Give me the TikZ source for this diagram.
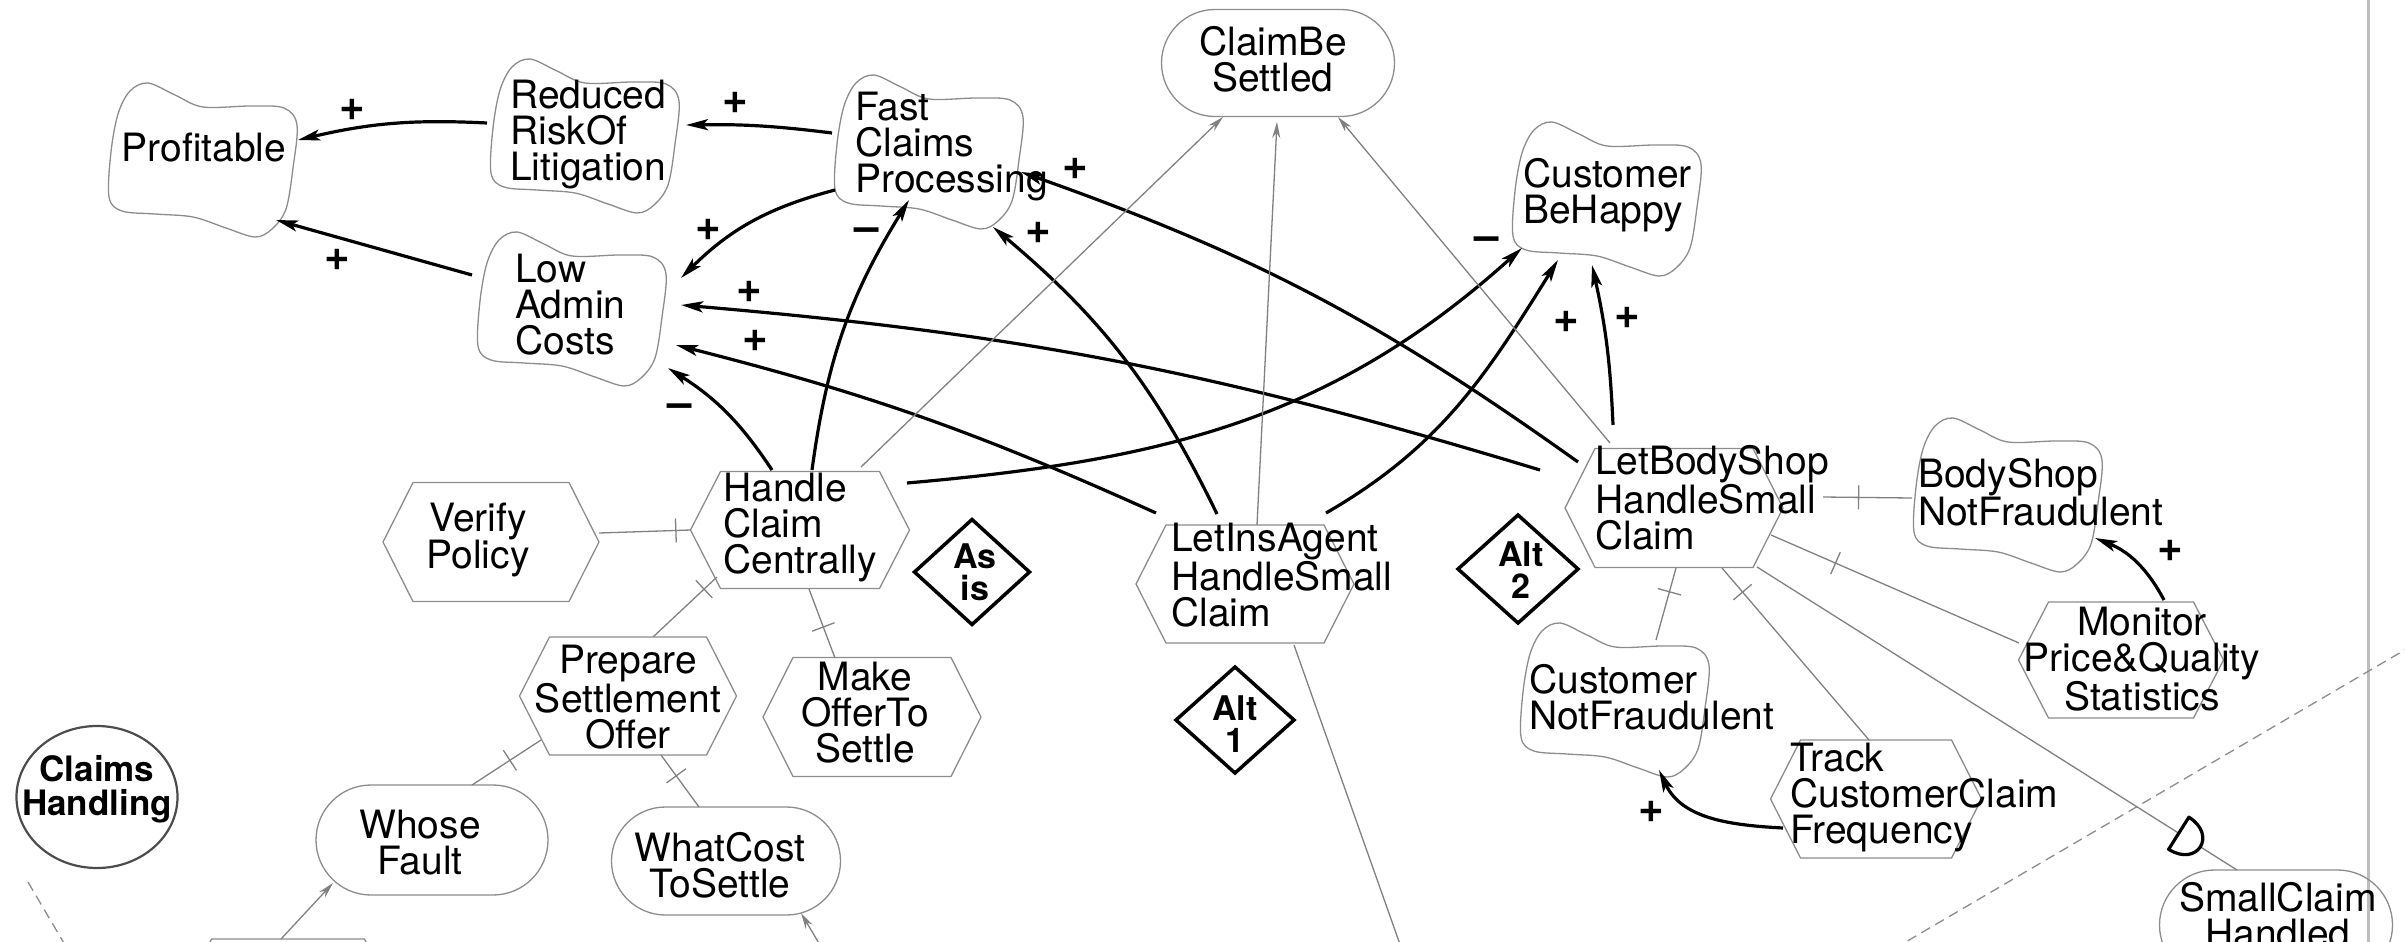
\documentclass[tikz,border=0pt]{standalone}
\usepackage{fontspec}
\setmainfont{TeX Gyre Heros}
\usetikzlibrary{arrows.meta,decorations.markings,shapes.geometric,shapes.misc}

\definecolor{shapegray}{gray}{0.55}
\definecolor{linkgray}{gray}{0.5}
\definecolor{framegray}{gray}{0.74}
\definecolor{actorgray}{gray}{0.3}

\newcommand\nodefont{\fontsize{39bp}{36bp}\selectfont}
\newcommand\signfont{\fontsize{44bp}{44bp}\selectfont\bfseries}
\newcommand\markfont{\fontsize{34bp}{32bp}\selectfont\bfseries}
\newcommand\actorfont{\fontsize{35bp}{34bp}\selectfont\bfseries}

% soft goal: cloud outline around an invisible holder node
\newcommand\softgoal[3]{%
  \node[holder, minimum width=192bp, minimum height=154bp] (#1) at (#2,#3) {};
  \draw[cloudline, shift={(#2,#3)}] plot[smooth cycle, tension=0.55] coordinates {
    (-55,-77) (-28,-65) (0,-53) (48,-54) (81,-52) (94,-35) (90,8) (83,49)
    (69,69) (52,77) (23,68) (-10,57) (-48,54) (-81,51) (-94,37) (-92,-8)
    (-85,-46) (-73,-69)};
}
% task: flat-topped hexagon around a holder node
\newcommand\task[5]{%
  \node[holder, minimum width=#4bp, minimum height=#5bp] (#1) at (#2,#3) {};
  \draw[taskline] (#1.west) -- ([xshift=30bp]#1.north west) -- ([xshift=-30bp]#1.north east)
    -- (#1.east) -- ([xshift=-30bp]#1.south east) -- ([xshift=30bp]#1.south west) -- cycle;
}
% alternative marker: bold diamond
\newcommand\altmark[5]{%
  \node[holder, minimum width=#4bp, minimum height=#5bp] (#1) at (#2,#3) {};
  \draw[altline] (#1.north) -- (#1.east) -- (#1.south) -- (#1.west) -- cycle;
}

\tikzset{
  holder/.style={rectangle, draw=none, inner sep=0pt, outer sep=0pt},
  cloudline/.style={draw=shapegray, line width=1.3bp},
  taskline/.style={draw=shapegray, line width=1.3bp, line join=miter},
  goalshape/.style={rounded rectangle, draw=shapegray, line width=1.3bp, inner sep=0pt},
  actorshape/.style={ellipse, draw=actorgray, line width=2.2bp, inner sep=0pt},
  altline/.style={draw=black, line width=3.5bp},
  lbl/.style={font=\nodefont, inner sep=0pt, align=left, text=black},
  clbl/.style={lbl, align=center},
  marklbl/.style={font=\markfont, inner sep=0pt, align=center},
  actorlbl/.style={font=\actorfont, inner sep=0pt, align=center},
  sign/.style={font=\signfont, inner sep=0pt},
  contrib/.style={draw=black, line width=3.2bp, -{Stealth[length=22bp,width=11bp,inset=5bp]}},
  meansend/.style={draw=linkgray, line width=1.3bp, -{Stealth[length=16bp,width=8bp]}},
  plainlink/.style={draw=linkgray, line width=1.3bp},
  decomp/.style={draw=linkgray, line width=1.3bp,
    postaction={decorate, decoration={markings,
      mark=at position #1 with {\draw[linkgray, line width=1.3bp] (0,-12bp) -- (0,12bp);}}}},
  dependency/.style={draw=linkgray, line width=1.3bp,
    postaction={decorate, decoration={markings,
      mark=at position #1 with {\draw[black, line width=3.2bp, fill=white, line join=round]
        (-12bp,-19bp) -- (-12bp,19bp) .. controls (22bp,19bp) and (22bp,-19bp) .. (-12bp,-19bp) -- cycle;}}}},
  boundary/.style={draw=shapegray, line width=1.3bp, dash pattern=on 10bp off 6bp},
}

\begin{document}
\begin{tikzpicture}[x=1bp, y=-1bp]
\useasboundingbox (0,0) rectangle (2405,941);
\clip (0,0) rectangle (2405,941);

% boundaries
\draw[framegray, line width=3bp] (2368,-5) -- (2368,950);
\draw[boundary] (1880,957) -- (2420,641);
\draw[boundary] (28,882) -- (68,950);

% soft goals
\softgoal{prof}{203}{160}
\softgoal{red}{585}{136}
\softgoal{low}{572}{309}
\softgoal{fast}{929}{152}
\softgoal{cbh}{1607}{199}
\softgoal{bsnf}{2008}{495}
\softgoal{cnf}{1615}{700}

% goals
\node[goalshape, minimum width=233bp, minimum height=107bp] (cbs) at (1278,63) {};
\node[goalshape, minimum width=232bp, minimum height=110bp] (wf) at (432,840) {};
\node[goalshape, minimum width=229bp, minimum height=108bp] (wc) at (726,861) {};
\node[goalshape, minimum width=233bp, minimum height=110bp] (sch) at (2276,925) {};

% tasks
\task{verify}{491}{542}{216}{119}
\task{hc}{800}{530}{219}{117}
\task{prep}{628}{696}{217}{118}
\task{make}{872}{717}{218}{119}
\task{lia}{1245}{584}{218}{118}
\task{lbs}{1674}{508}{218}{119}
\task{mon}{2121}{660}{205}{116}
\task{track}{1876}{799}{211}{118}
\task{offleft}{288}{998}{213}{118}

% actor
\node[actorshape, minimum width=161bp, minimum height=142bp] (actor) at (97,797) {};

% alternatives
\altmark{asis}{972}{572}{115}{105}
\altmark{altone}{1235}{720}{118}{106}
\altmark{alttwo}{1518}{569}{120}{108}

% free ends of links leaving the view
\coordinate (wcsrc) at (823,950);
\coordinate (liadown) at (1402,950);

% contributions
\draw[contrib] ([shift={(-98,-13)}]red.center) to[bend right=8] ([shift={(95,-20)}]prof.center);
\draw[contrib] ([shift={(-97,-19)}]fast.center) to[bend right=4] ([shift={(101,-11)}]red.center);
\draw[contrib] ([shift={(-100,-34)}]low.center) -- ([shift={(73,60)}]prof.center);
\draw[contrib] ([shift={(-94,38)}]fast.center) to[bend right=15] ([shift={(109,-31)}]low.center);
\draw[contrib] ([shift={(-28,-60)}]hc.center) to[bend right=12] ([shift={(96,59)}]low.center);
\draw[contrib] ([shift={(12,-60)}]hc.center) to[bend left=12] ([shift={(-20,48)}]fast.center);
\draw[contrib] ([shift={(-28,-70)}]lia.center) to[bend right=12] ([shift={(64,75)}]fast.center);
\draw[contrib] ([shift={(-89,-71)}]lia.center) to[bend right=5] ([shift={(104,36)}]low.center);
\draw[contrib] ([shift={(-134,-38)}]lbs.center) to[bend right=6] ([shift={(109,-4)}]low.center);
\draw[contrib] ([shift={(-96,-46)}]lbs.center) to[bend right=8] ([shift={(92,20)}]fast.center);
\draw[contrib] ([shift={(107,-47)}]hc.center) to[out=5,in=222] ([shift={(-85,49)}]cbh.center);
\draw[contrib] ([shift={(81,-71)}]lia.center) to[out=30,in=238] ([shift={(-49,61)}]cbh.center);
\draw[contrib] ([shift={(-61,-83)}]lbs.center) to[bend right=5] ([shift={(-15,66)}]cbh.center);
\draw[contrib] ([shift={(43,-60)}]mon.center) to[bend right=20] ([shift={(87,43)}]bsnf.center);
\draw[contrib] ([shift={(-93,29)}]track.center) to[out=177,in=-65] ([shift={(44,70)}]cnf.center);

% means-ends
\draw[meansend] ([shift={(61,-63)}]hc.center) -- ([shift={(-55,54)}]cbs.center);
\draw[meansend] ([shift={(12,-59)}]lia.center) -- ([shift={(-1,59)}]cbs.center);
\draw[meansend] ([shift={(-64,-65)}]lbs.center) -- ([shift={(60,54)}]cbs.center);
\draw[meansend] ([shift={(-7,-59)}]offleft.center) -- ([shift={(-99,43)}]wf.center);
\draw[meansend] (wcsrc) -- ([shift={(75,52)}]wc.center);
\draw[plainlink] ([shift={(49,61)}]lia.center) -- (liadown);

% decompositions
\draw[decomp=0.84] ([shift={(108,-9)}]verify.center) -- (hc.west);
\draw[decomp=0.8] ([shift={(25,-59)}]prep.center) -- ([shift={(-83,47)}]hc.center);
\draw[decomp=0.45] ([shift={(-37,-59)}]make.center) -- ([shift={(9,59)}]hc.center);
\draw[decomp=0.55] ([shift={(40,-55)}]wf.center) -- ([shift={(-87,44)}]prep.center);
\draw[decomp=0.6] ([shift={(-27,-54)}]wc.center) -- ([shift={(33,59)}]prep.center);
\draw[decomp=0.6] ([shift={(-96,3)}]bsnf.center) -- ([shift={(149,-11)}]lbs.center);
\draw[decomp=0.74] ([shift={(-102,-17)}]mon.center) -- ([shift={(97,27)}]lbs.center);
\draw[decomp=0.67] ([shift={(41,-60)}]cnf.center) -- ([shift={(2,60)}]lbs.center);
\draw[decomp=0.86] ([shift={(-7,-59)}]track.center) -- ([shift={(48,60)}]lbs.center);

% dependency
\draw[dependency=0.9] ([shift={(83,59)}]lbs.center) -- ([shift={(-39,-55)}]sch.center);

% texts
\node[lbl] (prof-t) at (204,148) {Profitable};
\node[lbl, anchor=west] (red-t) at (510,135) {Reduced\\RiskOf\\Litigation};
\node[lbl, anchor=west] (low-t) at (515,305) {Low\\Admin\\Costs};
\node[lbl, anchor=west] (fast-t) at (855,147) {Fast\\Claims\\Processing};
\node[lbl, anchor=west] (cbh-t) at (1523,195) {Customer\\BeHappy};
\node[lbl, anchor=west] (bsnf-t) at (1918,492) {BodyShop\\NotFraudulent};
\node[lbl, anchor=west] (cnf-t) at (1529,697) {Customer\\NotFraudulent};
\node[clbl] (cbs-t) at (1273,59) {ClaimBe\\Settled};
\node[clbl] (wf-t) at (420,843) {Whose\\Fault};
\node[clbl] (wc-t) at (720,865) {WhatCost\\ToSettle};
\node[clbl] (sch-t) at (2278,915) {SmallClaim\\Handled};
\node[clbl] (verify-t) at (478,540) {Verify\\Policy};
\node[lbl, anchor=west] (hc-t) at (723,528) {Handle\\Claim\\Centrally};
\node[clbl] (prep-t) at (628,697) {Prepare\\Settlement\\Offer};
\node[clbl] (make-t) at (865,713) {Make\\OfferTo\\Settle};
\node[lbl, anchor=west] (lia-t) at (1171,575) {LetInsAgent\\HandleSmall\\Claim};
\node[lbl, anchor=west] (lbs-t) at (1595,498) {LetBodyShop\\HandleSmall\\Claim};
\node[clbl] (mon-t) at (2142,659) {Monitor\\Price\&Quality\\Statistics};
\node[lbl, anchor=west] (track-t) at (1790,798) {Track\\CustomerClaim\\Frequency};
\node[actorlbl] (actor-t) at (97,789) {Claims\\Handling};
\node[marklbl] (asis-t) at (975,572) {As\\is};
\node[marklbl] (altone-t) at (1235,724) {Alt\\1};
\node[marklbl] (alttwo-t) at (1521,570) {Alt\\2};

% contribution signs
\node[sign] (s1) at (352,110) {+};
\node[sign] (s2) at (735,103) {+};
\node[sign] (s3) at (337,260) {+};
\node[sign] (s4) at (708,230) {+};
\node[sign] (s5) at (749,292) {+};
\node[sign] (s6) at (755,341) {+};
\node[sign] (s7) at (680,411) {–};
\node[sign] (s8) at (867,235) {–};
\node[sign] (s9) at (1038,233) {+};
\node[sign] (s10) at (1075,169) {+};
\node[sign] (s11) at (1487,244) {–};
\node[sign] (s12) at (1566,322) {+};
\node[sign] (s13) at (1627,318) {+};
\node[sign] (s14) at (2170,551) {+};
\node[sign] (s15) at (1651,812) {+};
\end{tikzpicture}
\end{document}
